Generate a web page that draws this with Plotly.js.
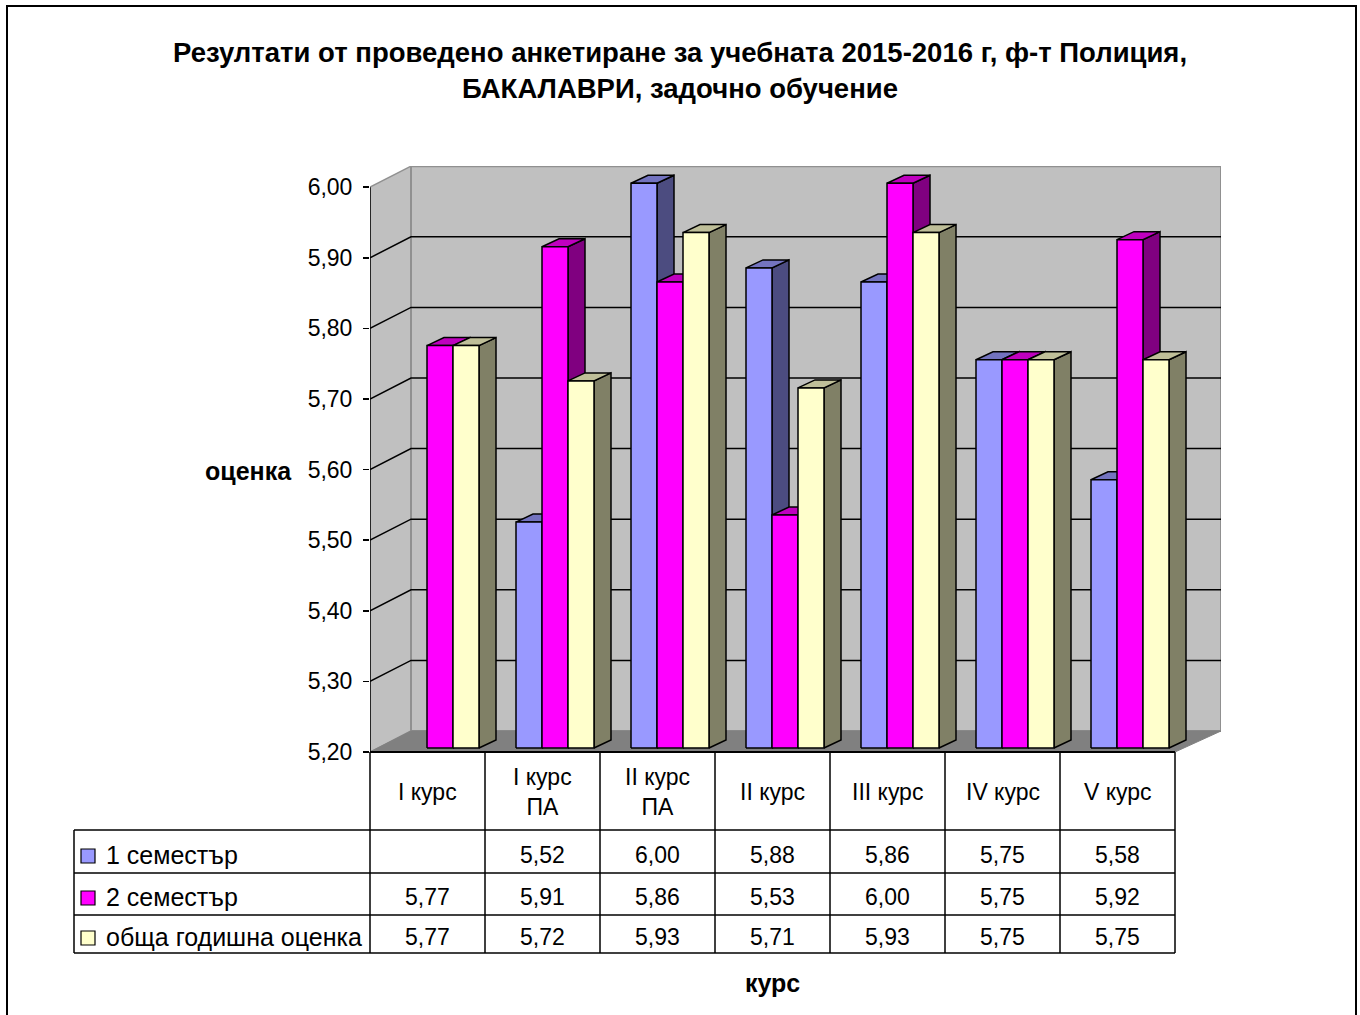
<!DOCTYPE html>
<html>
<head>
<meta charset="utf-8">
<script src="https://cdn.plot.ly/plotly-3.0.1.min.js"></script>
<style>html,body{margin:0;padding:0;background:#fff;}#chart{width:1360px;height:1015px;}</style>
</head>
<body>
<div id="chart"></div>
<script>
// ---------------- data ----------------
const categories = ["I курс", "I курс<br>ПА", "II курс<br>ПА", "II курс", "III курс", "IV курс", "V курс"];
const seriesNames = ["1 семестър", "2 семестър", "обща годишна оценка"];
const sem1   = [null, 5.52, 6.00, 5.88, 5.86, 5.75, 5.58];
const sem2   = [5.77, 5.91, 5.86, 5.53, 6.00, 5.75, 5.92];
const annual = [5.77, 5.72, 5.93, 5.71, 5.93, 5.75, 5.75];
const yTicks = [5.2, 5.3, 5.4, 5.5, 5.6, 5.7, 5.8, 5.9, 6.0];
const chartTitle = "Резултати от проведено анкетиране за учебната 2015-2016 г, ф-т Полиция,<br>БАКАЛАВРИ, задочно обучение";
const yTitle = "оценка";
const xTitle = "курс";

// ---------------- geometry / style ----------------
const W = 1360, H = 1015;
const PX = p => p / W, PY = p => 1 - p / H;
const X0 = 370, XB = 1221, UX = 115;       // x pixels per category
const Y0 = 752, YT = 166, UY = 706;         // y pixels per unit of value
const yMin = 5.2, yMax = 5.2 + (Y0 - YT) / UY;
const xMax = (XB - X0) / UX;
const BX = 41 / UX, BY = 21 / UY;           // depth of walls
const barOff = 31 / UX, barW = 26 / UX, dX = 17 / UX, dY = 8 / UY, lift = 4 / UY;
const FONT = "Liberation Sans, Arial, sans-serif";

const colors = [
  {front: "#9999FF", top: "#7373BF", side: "#4C4C80"},
  {front: "#FF00FF", top: "#BF00BF", side: "#800080"},
  {front: "#FFFFCC", top: "#BFBF99", side: "#808066"}
];
const allSeries = [sem1, sem2, annual];

const traces = [];
function poly(xs, ys, fill, lineColor, lw) {
  return {type: "scatter", mode: "lines", x: xs, y: ys, fill: "toself", fillcolor: fill,
          line: {color: lineColor, width: lw}, hoverinfo: "skip", showlegend: false};
}
// walls
traces.push(poly([0, BX, BX, 0, 0], [yMin, yMin + BY, 6.0 + BY, 6.0, yMin], "#C0C0C0", "#909090", 1.5));
traces.push(poly([BX, xMax, xMax, BX, BX], [yMin + BY, yMin + BY, 6.0 + BY, 6.0 + BY, yMin + BY], "#C0C0C0", "#909090", 2));
// floor
traces.push(poly([0, BX, xMax, 7, 0], [yMin, yMin + BY, yMin + BY, yMin, yMin], "#808080", "#808080", 1));
// gridlines
{
  const gx = [], gy = [];
  yTicks.slice(1, -1).forEach(v => { gx.push(0, BX, xMax, null); gy.push(v, v + BY, v + BY, null); });
  traces.push({type: "scatter", mode: "lines", x: gx, y: gy, line: {color: "#000", width: 1.5},
               hoverinfo: "skip", showlegend: false, connectgaps: false});
}
// y axis line
traces.push({type: "scatter", mode: "lines", x: [0, 0], y: [yMin, 6.0], line: {color: "#000", width: 1.5},
             hoverinfo: "skip", showlegend: false});

// bars (pseudo-3D): side, top, front for each series
allSeries.forEach((vals, s) => {
  const side = {x: [], y: []}, top = {x: [], y: []}, front = {x: [], y: []};
  vals.forEach((v, i) => {
    if (v === null) return;
    const x0 = i + barOff + s * barW, x1 = x0 + barW;
    const b = yMin + lift, t = v + lift;
    side.x.push(x1, x1 + dX, x1 + dX, x1, x1, null);
    side.y.push(b, b + dY, t + dY, t, b, null);
    top.x.push(x0, x1, x1 + dX, x0 + dX, x0, null);
    top.y.push(t, t, t + dY, t + dY, t, null);
    front.x.push(x0, x1, x1, x0, x0, null);
    front.y.push(b, b, t, t, b, null);
  });
  traces.push(Object.assign(poly(side.x, side.y, colors[s].side, "#000", 1.5), {connectgaps: false}));
  traces.push(Object.assign(poly(top.x, top.y, colors[s].top, "#000", 1.5), {connectgaps: false}));
  traces.push(Object.assign(poly(front.x, front.y, colors[s].front, "#000", 1.5), {connectgaps: false, name: seriesNames[s]}));
});

// ---------------- table ----------------
const tblLeft = 74, tblRight = X0 + 7 * UX;
const rowLines = [830, 873, 915, 953];
const shapes = [];
const L = (x0, y0, x1, y1, w) => shapes.push({type: "line", xref: "paper", yref: "paper",
  x0: PX(x0), y0: PY(y0), x1: PX(x1), y1: PY(y1), line: {color: "#000", width: w || 1.5}});
L(X0, Y0, tblRight, Y0, 2);
for (let i = 0; i <= 7; i++) L(X0 + i * UX, Y0, X0 + i * UX, rowLines[3]);
rowLines.forEach(y => L(tblLeft, y, tblRight, y));
L(tblLeft, rowLines[0], tblLeft, rowLines[3]);
// outer border
shapes.push({type: "rect", xref: "paper", yref: "paper", x0: PX(7), y0: PY(1030), x1: PX(1356), y1: PY(6),
             line: {color: "#000", width: 2}});

const annotations = [];
const A = (text, x, y, opts) => annotations.push(Object.assign({text: text, xref: "paper", yref: "paper",
  x: PX(x), y: PY(y), showarrow: false, xanchor: "center", yanchor: "middle",
  font: {family: FONT, size: 23, color: "#000"}}, opts || {}));
categories.forEach((c, i) => A(c, X0 + (i + 0.5) * UX, 792));
const rowCenters = [855, 897, 937];
allSeries.forEach((vals, s) => {
  // legend key
  shapes.push({type: "rect", xref: "paper", yref: "paper", x0: PX(81), x1: PX(95),
               y0: PY(rowCenters[s] - 6), y1: PY(rowCenters[s] + 8),
               fillcolor: colors[s].front, line: {color: "#000", width: 1.2}});
  A(seriesNames[s], 104, rowCenters[s], {xanchor: "left", font: {family: FONT, size: 25, color: "#000"}});
  vals.forEach((v, i) => {
    if (v === null) return;
    A(v.toFixed(2).replace(".", ","), X0 + (i + 0.5) * UX, rowCenters[s]);
  });
});
A("<b>" + yTitle + "</b>", 248, 471, {font: {family: FONT, size: 25, color: "#000"}});
A("<b>" + xTitle + "</b>", 772, 983, {font: {family: FONT, size: 25, color: "#000"}});

const layout = {
  width: W, height: H,
  margin: {l: 0, r: 0, t: 0, b: 0},
  paper_bgcolor: "#fff", plot_bgcolor: "rgba(0,0,0,0)",
  separators: ",.",
  showlegend: false,
  title: {text: "<b>" + chartTitle + "</b>", x: 0.5, xanchor: "center", y: PY(62), yanchor: "middle",
          font: {family: FONT, size: 27.5, color: "#000"}},
  xaxis: {domain: [PX(X0), PX(XB)], range: [0, xMax], showgrid: false, zeroline: false,
          showticklabels: false, ticks: "", showline: false, fixedrange: true},
  yaxis: {domain: [PY(Y0), PY(YT)], range: [yMin, yMax], tickvals: yTicks, tickformat: ".2f",
          ticks: "outside", ticklen: 6, tickwidth: 1.5, tickcolor: "#000", ticklabelstandoff: 6,
          showgrid: false, zeroline: false, showline: false, fixedrange: true,
          tickfont: {family: FONT, size: 23, color: "#000"}},
  shapes: shapes,
  annotations: annotations,
  hovermode: false
};
Plotly.newPlot("chart", traces, layout, {displayModeBar: false, staticPlot: true});
</script>
</body>
</html>
